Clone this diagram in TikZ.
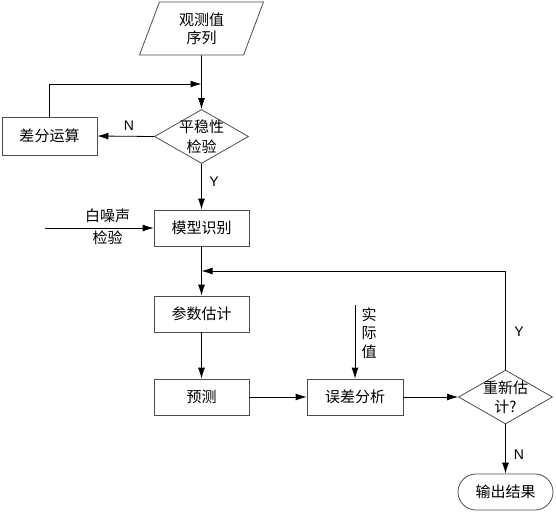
\documentclass[tikz,border=0pt]{standalone}
\usepackage{fontspec}
\newfontfamily\cjk{Noto Sans CJK SC}
\newfontfamily\lat{Liberation Sans}
\usetikzlibrary{shapes.geometric,shapes.misc,arrows.meta}
\tikzset{
  box/.style={rectangle,draw=black!70,line width=0.8pt,inner sep=0pt,
    minimum width=95pt,minimum height=37pt},
  test/.style={diamond,draw=black!70,line width=0.8pt,inner sep=-12pt,
    minimum width=94pt,minimum height=54pt,align=center},
  flow/.style={line width=0.8pt,-{Latex[length=11pt,width=7pt]}},
  tag/.style={font=\lat\fontsize{14}{16}\selectfont}
}
\begin{document}
\begin{tikzpicture}[x=1pt,y=-1pt,font=\cjk\fontsize{15}{20}\selectfont]
  \useasboundingbox (0,0) rectangle (556,513);

  % main column
  \node[trapezium,trapezium left angle=58,trapezium right angle=122,
    trapezium stretches body,draw=black!70,line width=0.8pt,inner sep=0pt,
    minimum width=124pt,minimum height=53pt,align=center,
    font=\cjk\fontsize{15}{18}\selectfont] (obs) at (201.5,28.5) {观测值\\序列};
  \node[test] (stat) at (201.5,136.5) {平稳性\\检验};
  \node[box,minimum height=38pt] (diff) at (49.5,136) {差分运算};
  \node[box,minimum height=36pt] (ident) at (201.5,228) {模型识别};
  \node[box,minimum height=36pt] (est) at (201.5,314) {参数估计};
  \node[box,minimum height=36pt] (pred) at (201.5,397) {预测};
  \node[box,minimum height=36pt,minimum width=96pt] (err) at (355,397) {误差分析};
  \node[test,font=\cjk\fontsize{15}{19}\selectfont] (again) at (505.5,397) {重新估\\计?};
  \node[rounded rectangle,draw=black!70,line width=0.8pt,inner sep=0pt,
    minimum width=95pt,minimum height=36pt] (out) at (505.5,492) {输出结果};

  % side inputs
  \node[align=center] (noise) at (107.5,227) {白噪声\\[2pt]检验};
  \node[align=center,font=\cjk\fontsize{15}{18.5}\selectfont] (real) at (369,333) {实\\际\\值};
  \coordinate (noisein) at (45,228);
  \coordinate (realin) at (355,305);
  \coordinate (join) at (201.5,84);
  \coordinate (back) at (201.5,271);

  % Y/N marks
  \node[tag] (n1) at (129,126) {N};
  \node[tag] (y1) at (214,182) {Y};
  \node[tag] (y2) at (519,332) {Y};
  \node[tag] (n2) at (519,455) {N};

  % connectors
  \draw[flow] (obs.south) -- (stat.north);
  \draw[flow] (diff.north) |- (join);
  \draw[flow] (stat.west) -- (diff.east);
  \draw[flow] (stat.south) -- (ident.north);
  \draw[flow] (noisein) -- (ident.west);
  \draw[flow] (ident.south) -- (est.north);
  \draw[flow] (est.south) -- (pred.north);
  \draw[flow] (pred.east) -- (err.west);
  \draw[flow] (realin) -- (err.north);
  \draw[flow] (err.east) -- (again.west);
  \draw[flow] (again.north) |- (back);
  \draw[flow] (again.south) -- (out.north);
\end{tikzpicture}
\end{document}
